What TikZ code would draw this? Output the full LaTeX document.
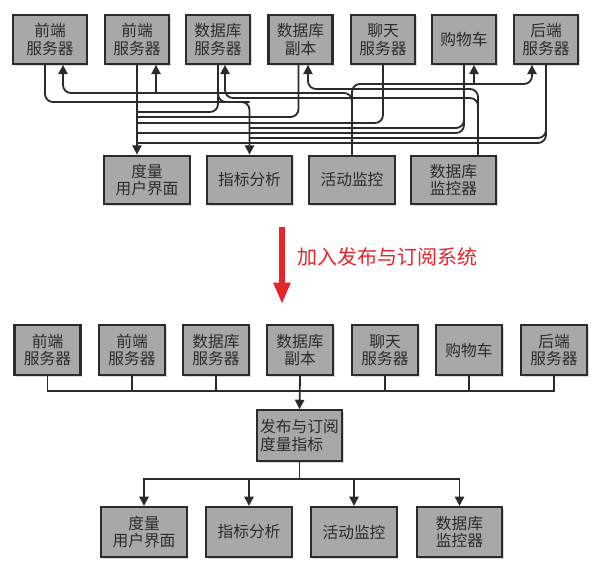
\documentclass[tikz,border=0pt]{standalone}
\usepackage{fontspec}
\newfontfamily\cjk{Noto Sans CJK SC}
\usetikzlibrary{arrows.meta,shadows}
\definecolor{ink}{HTML}{2B2B2B}
\definecolor{boxg}{HTML}{A8A8A8}
\definecolor{alert}{HTML}{E8242A}

\begin{document}
\begin{tikzpicture}[
  x=0.75pt, y=-0.75pt,
  font=\cjk\fontsize{11.8}{13}\selectfont,
  box/.style={draw=ink, fill=boxg, line width=1.6pt, align=center, inner sep=2pt,
              minimum width=48pt, minimum height=36.5pt, text=ink,
              drop shadow={shadow xshift=1.3pt, shadow yshift=-1.3pt, opacity=0.3}},
  mon/.style={box, minimum width=64pt},
  wire/.style={line width=1.35pt, draw=ink, rounded corners=6pt},
  arr/.style={wire, -{Triangle[length=7pt,width=7pt]}},
  arrs/.style={arr, sharp corners},
  bigarr/.style={line width=3.8pt, draw=alert, -{Triangle[length=16pt,width=12pt]}},
  redlab/.style={font=\cjk\fontsize{15}{18}\selectfont, text=alert}
]
\useasboundingbox (0,0) rectangle (606,579);
% ---------------- direct connections
\node[box, minimum width=55pt] (b1) at (50,39.5) {前端\\服务器};
\node[box] (b2) at (137,39.5) {前端\\服务器};
\node[box] (b3) at (218,39.5) {数据库\\服务器};
\node[box] (b4) at (300.5,39.5) {数据库\\副本};
\node[box] (b5) at (383,39.5) {聊天\\服务器};
\node[box] (b6) at (464,39.5) {购物车};
\node[box] (b7) at (546,39.5) {后端\\服务器};
\node[mon] (m1) at (147,180) {度量\\用户界面};
\node[mon] (m2) at (249.5,180) {指标分析};
\node[mon] (m3) at (352,180) {活动监控};
\node[mon] (m4) at (453.5,180) {数据库\\监控器};
\foreach \n/\y in {A/84,B/89,C/93,D/98,E/102,F/112,G/117,H/123,I/128,J/133,K/138,L/143}
  \coordinate (lv\n) at (0,\y);
% servers -> metrics UI / analysis
\draw[arr] (b2.south) -- (b2.south |- m1.north);
\draw[arr] ([xshift=-3.75pt]b1.south) |- (m2.north |- lvE) -- (m2.north);
\draw[wire] (b3.south) |- (b2.south |- lvF);
\draw[wire] (b3.south) |- (m2.north |- lvE);
\draw[wire] ([xshift=-1.5pt]b4.south) |- (b2.south |- lvG);
\draw[wire] (b5.south) |- (b2.south |- lvH);
\draw[wire] (b6.south) |- (b2.south |- lvJ);
\draw[wire] (b6.south) |- (m2.north |- lvI);
\draw[wire] (b7.south) |- (b2.south |- lvL);
\draw[wire] (b7.south) |- (m2.north |- lvK);
% monitors -> servers
\draw[arr] (m3.north) |- ([xshift=9.75pt]b1.south |- lvC) -- ([xshift=9.75pt]b1.south);
\draw[arr] ([xshift=14.25pt]b2.south |- lvC) -- ([xshift=14.25pt]b2.south);
\draw[arr] (m3.north) |- ([xshift=-10.5pt]b7.south |- lvA) -- ([xshift=-10.5pt]b7.south);
\draw[arr] ([xshift=7.5pt]b6.south |- lvA) -- ([xshift=7.5pt]b6.south);
\draw[arr] ([xshift=18.4pt]m4.north) |- ([xshift=5.6pt]b4.south |- lvB) -- ([xshift=5.6pt]b4.south);
\draw[arr] ([xshift=18.4pt]m4.north) |- ([xshift=5.25pt]b3.south |- lvD) -- ([xshift=5.25pt]b3.south);
% ---------------- change
\coordinate (chgA) at (282,227);
\coordinate (chgB) at (282,304);
\draw[bigarr] (chgA) -- (chgB);
\node[redlab, anchor=west] (chg) at (293,257) {加入发布与订阅系统};
% ---------------- publish/subscribe
\node[box, minimum width=49.5pt, minimum height=37.5pt] (p1) at (47.5,350) {前端\\服务器};
\node[box, minimum width=49.5pt, minimum height=37.5pt] (p2) at (132,350) {前端\\服务器};
\node[box, minimum width=49.5pt, minimum height=37.5pt] (p3) at (216,350) {数据库\\服务器};
\node[box, minimum width=49.5pt, minimum height=37.5pt] (p4) at (300,350) {数据库\\副本};
\node[box, minimum width=49.5pt, minimum height=37.5pt] (p5) at (385,350) {聊天\\服务器};
\node[box, minimum width=49.5pt, minimum height=37.5pt] (p6) at (469,350) {购物车};
\node[box, minimum width=49.5pt, minimum height=37.5pt] (p7) at (554,350) {后端\\服务器};
\node[box, minimum width=63.75pt, minimum height=38pt, align=left] (hub) at (299.5,435.5) {发布与订阅\\度量指标};
\node[mon, minimum height=37.5pt] (q1) at (144,532) {度量\\用户界面};
\node[mon, minimum height=37.5pt] (q2) at (249,532) {指标分析};
\node[mon, minimum height=37.5pt] (q3) at (354,532) {活动监控};
\node[mon, minimum height=37.5pt] (q4) at (459.5,532) {数据库\\监控器};
\coordinate (busT) at (0,391);
\coordinate (busB) at (0,479);
\draw[wire, sharp corners] (p1.south) |- (p7.south |- busT) -- (p7.south);
\foreach \p in {p2,p3,p5,p6}
  \draw[wire] (\p.south) -- (\p.south |- busT);
\draw[arrs] (p4.south) -- (hub.north);
\draw[arrs] (hub.south) -- (hub.south |- busB) -| (q1.north);
\draw[arrs] (hub.south) -- (hub.south |- busB) -| (q4.north);
\draw[arrs] (q2.north |- busB) -- (q2.north);
\draw[arrs] (q3.north |- busB) -- (q3.north);
\end{tikzpicture}
\end{document}
